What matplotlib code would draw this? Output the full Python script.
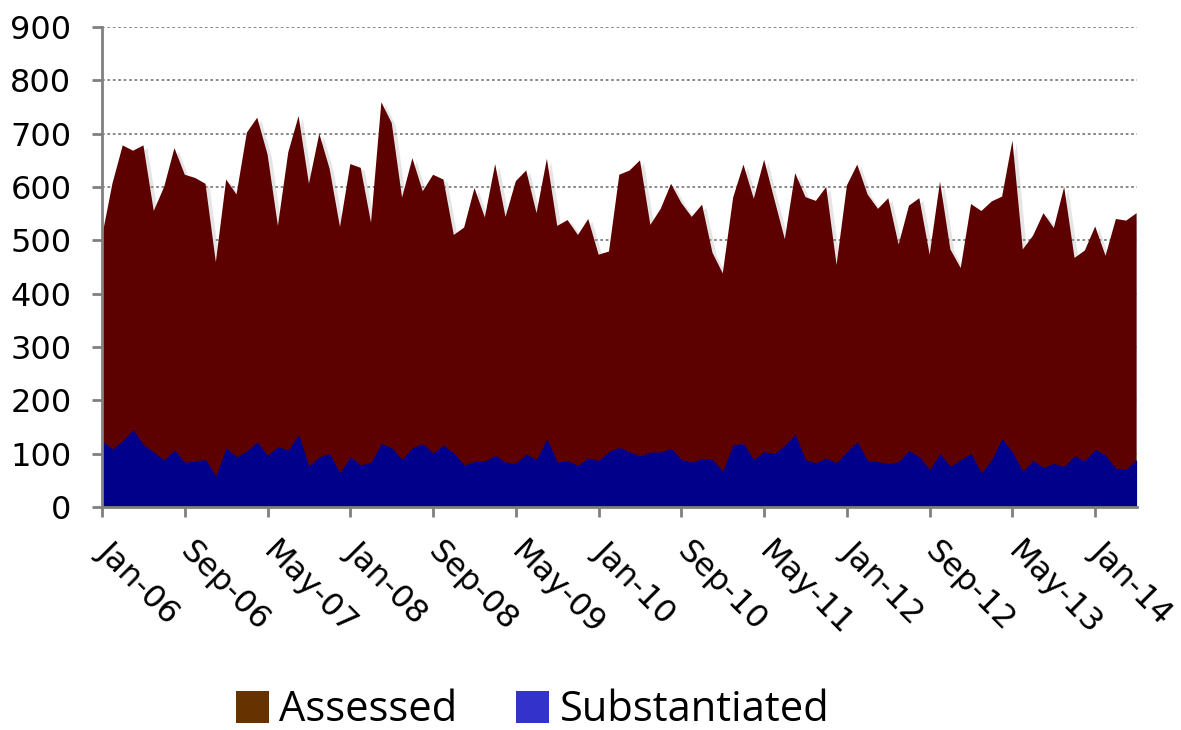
"""
Monthly assessed vs substantiated cases, Jan-06 to May-14, drawn as
overlapping area charts.
"""

import matplotlib
matplotlib.use("Agg")
from matplotlib import pyplot as plt
from matplotlib.patches import Patch
import matplotlib.patheffects as pe

# monthly values, Jan-06 .. May-14 (101 months)
assessed = [
    507, 606, 678, 668, 678, 555, 600, 673, 623, 617,
    606, 459, 614, 586, 702, 730, 661, 527, 665, 733,
    606, 700, 634, 525, 643, 636, 533, 759, 720, 580,
    654, 592, 623, 614, 510, 524, 598, 543, 643, 544,
    611, 631, 551, 653, 527, 538, 510, 540, 473, 479,
    623, 631, 650, 529, 559, 606, 570, 544, 567, 477,
    438, 580, 642, 578, 651, 576, 502, 626, 581, 574,
    600, 454, 603, 642, 586, 559, 579, 492, 565, 579,
    473, 610, 483, 448, 568, 555, 573, 582, 687, 483,
    509, 551, 523, 600, 467, 481, 526, 471, 540, 537,
    551,
]
substantiated = [
    124, 109, 124, 145, 117, 103, 88, 107, 84, 86,
    89, 58, 111, 94, 105, 122, 97, 113, 107, 136,
    77, 94, 100, 64, 94, 79, 84, 119, 111, 89,
    111, 119, 101, 116, 101, 79, 85, 86, 97, 84,
    82, 99, 89, 128, 84, 87, 78, 92, 87, 104,
    112, 103, 96, 103, 103, 110, 89, 84, 91, 89,
    67, 117, 119, 89, 104, 100, 116, 136, 88, 83,
    92, 83, 104, 122, 87, 85, 81, 85, 106, 94,
    70, 100, 76, 89, 100, 64, 89, 128, 103, 67,
    87, 74, 82, 76, 96, 87, 108, 97, 72, 71,
    89,
]
tick_labels = ['Jan-06', 'Sep-06', 'May-07', 'Jan-08', 'Sep-08', 'May-09',
               'Jan-10', 'Sep-10', 'May-11', 'Jan-12', 'Sep-12', 'May-13',
               'Jan-14']
series_names = ['Assessed', 'Substantiated']
fill_colors = ['#5c0000', '#00008b']
legend_colors = ['#663300', '#3333cc']

GREY = '#808080'


def plot_areas(ax):
    months = list(range(len(assessed)))
    top = ax.fill_between(months, 0, assessed, color=fill_colors[0], lw=0)
    # soft edge like the original office chart
    top.set_path_effects([pe.SimplePatchShadow(offset=(3, -2), shadow_rgbFace='#999999',
                                               alpha=0.25),
                          pe.Normal()])
    ax.fill_between(months, 0, substantiated, color=fill_colors[1], lw=0)
    return months


def format_axes(ax, months):
    ax.set_xlim(0, months[-1])
    ax.set_ylim(0, 900)
    ax.set_yticks(range(0, 901, 100))
    ax.yaxis.grid(True, linestyle=(0, (1.5, 1.5)), color=GREY, linewidth=1.3)
    ax.set_axisbelow(True)

    tick_pos = list(range(0, len(months), 8))
    ax.set_xticks(tick_pos)
    ax.set_xticklabels([])
    # slanted month labels, placed by hand so they sit right of the tick
    for pos, lab in zip(tick_pos, tick_labels):
        ax.annotate(lab, xy=(pos, 0), xycoords=('data', 'axes fraction'),
                    xytext=(8, -21), textcoords='offset points',
                    rotation=-45, rotation_mode='anchor', ha='left', va='top',
                    fontsize=23)

    for side in ('top', 'right'):
        ax.spines[side].set_visible(False)
    for side in ('left', 'bottom'):
        ax.spines[side].set_color(GREY)
        ax.spines[side].set_linewidth(2)
        ax.spines[side].set_zorder(3)

    ax.tick_params(axis='both', colors=GREY, width=2, length=7, labelsize=23,
                   labelcolor='black')
    ax.tick_params(axis='y', pad=15)


def add_legend(fig):
    handles = [Patch(facecolor=c, edgecolor='none') for c in legend_colors]
    fig.legend(handles, series_names, loc='center', bbox_to_anchor=(0.451, 0.027),
               ncol=2, frameon=False,
               prop={'family': 'Open Sans', 'size': 30},
               handlelength=0.8, handleheight=0.8, handletextpad=0.25,
               columnspacing=1.4)


def main():
    fig = plt.figure(figsize=(11.81, 7.3), dpi=100)
    ax = fig.add_axes([0.0864, 0.3055, 0.876, 0.6575])

    months = plot_areas(ax)
    format_axes(ax, months)
    add_legend(fig)

    fig.savefig('out.png', dpi=100)


if __name__ == '__main__':
    main()
